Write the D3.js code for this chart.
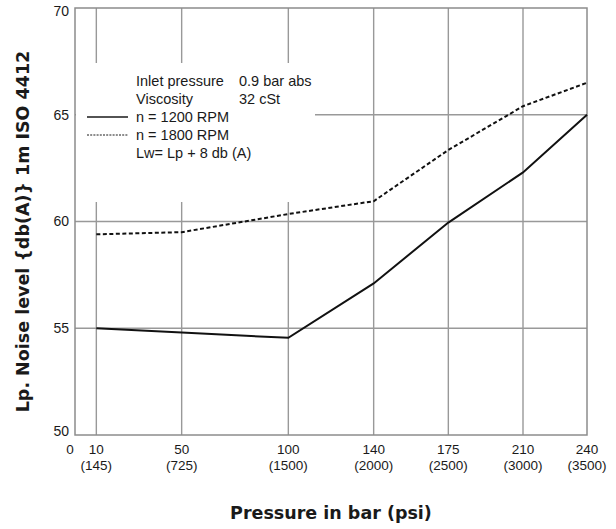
<!DOCTYPE html>
<html>
<head>
<meta charset="utf-8">
<script src="https://d3js.org/d3.v7.min.js"></script>
<style>
  body { margin: 0; background: #fff; }
  text { font-family: "Liberation Sans", Arial, sans-serif; fill: #1a1a1a; }
</style>
</head>
<body>
<svg width="616" height="529"></svg>
<script>
// pressure in bar, with psi in brackets under it
var pressureBar = [10, 50, 100, 140, 175, 210, 240];
var psiLabels = ["(145)", "(725)", "(1500)", "(2000)", "(2500)", "(3000)", "(3500)"];
var yTicks = [50, 55, 60, 65, 70];

// Lp noise level db(A)
var rpm1200 = [55.0, 54.8, 54.55, 57.1, 59.95, 62.3, 65.0];
var rpm1800 = [59.4, 59.5, 60.35, 60.95, 63.35, 65.4, 66.5];

var legendText = [
  ["Inlet pressure", "0.9 bar abs"],
  ["Viscosity", "32 cSt"],
  ["n = 1200 RPM", ""],
  ["n = 1800 RPM", ""],
  [" Lw= Lp + 8 db (A)", ""]
];

var svg = d3.select("svg"),
    margin = {top: 8, right: 29, bottom: 94, left: 75},
    width = +svg.attr("width") - margin.left - margin.right,
    height = +svg.attr("height") - margin.top - margin.bottom;

var x = d3.scaleLinear().domain([0, 240]).range([0, width]);
var y = d3.scaleLinear().domain([50, 70]).range([height, 0]);

var g = svg.append("g")
    .attr("transform", "translate(" + margin.left + "," + margin.top + ")");

var gridColor = "#999";

// horizontal grid
g.selectAll(".hgrid")
  .data(yTicks.filter(function(d) { return d > 50 && d < 70; }))
  .enter().append("line")
    .attr("x1", 0).attr("x2", width)
    .attr("y1", function(d) { return y(d); })
    .attr("y2", function(d) { return y(d); })
    .attr("stroke", gridColor)
    .attr("stroke-width", 1.4);

// vertical grid
g.selectAll(".vgrid")
  .data(pressureBar.slice(0, -1))
  .enter().append("line")
    .attr("x1", function(d) { return x(d); })
    .attr("x2", function(d) { return x(d); })
    .attr("y1", 0).attr("y2", height)
    .attr("stroke", gridColor)
    .attr("stroke-width", 1.4);

// frame
g.append("rect")
  .attr("width", width)
  .attr("height", height)
  .attr("fill", "none")
  .attr("stroke", "#8c8c8c")
  .attr("stroke-width", 1.5);

// y tick labels
g.selectAll(".ylab")
  .data(yTicks)
  .enter().append("text")
    .attr("x", -6)
    .attr("y", function(d) { return y(d); })
    .attr("dy", function(d) { return d == 70 ? "0.6em" : (d == 50 ? "0.1em" : "0.35em"); })
    .attr("text-anchor", "end")
    .style("font-size", "14px")
    .text(function(d) { return d; });

// x tick labels, bar then psi
g.append("text")
  .attr("x", x(0) - 5)
  .attr("y", height + 19)
  .attr("text-anchor", "middle")
  .style("font-size", "13.5px")
  .text("0");

g.selectAll(".xlab")
  .data(pressureBar)
  .enter().append("text")
    .attr("x", function(d) { return x(d); })
    .attr("y", height + 19)
    .attr("text-anchor", "middle")
    .style("font-size", "13.5px")
    .text(function(d) { return d; });

g.selectAll(".psilab")
  .data(pressureBar)
  .enter().append("text")
    .attr("x", function(d) { return x(d); })
    .attr("y", height + 35)
    .attr("text-anchor", "middle")
    .style("font-size", "13.5px")
    .text(function(d, i) { return psiLabels[i]; });

//Create X axis label
svg.append("text")
  .attr("x", margin.left + width / 2)
  .attr("y", 519)
  .attr("text-anchor", "middle")
  .style("font-family", "DejaVu Sans")
  .style("font-size", "17.5px")
  .style("font-weight", "bold")
  .text("Pressure in bar (psi)");

//Create y axis label
svg.append("text")
  .attr("transform", "translate(29," + (margin.top + y(60) + 10) + ") rotate(-90)")
  .attr("text-anchor", "middle")
  .style("font-family", "DejaVu Sans")
  .style("font-size", "17.5px")
  .style("font-weight", "bold")
  .text("Lp. Noise level {db(A)} 1m ISO 4412");

// legend box hides the grid behind it
g.append("rect")
  .attr("x", 1)
  .attr("y", 55)
  .attr("width", 239)
  .attr("height", 139)
  .attr("fill", "#fff");

var lg = g.append("g").attr("transform", "translate(61,78)");
lg.selectAll(".lt1")
  .data(legendText)
  .enter().append("text")
    .attr("x", 0)
    .attr("y", function(d, i) { return i * 18; })
    .style("font-size", "14.5px")
    .text(function(d) { return d[0]; });
lg.selectAll(".lt2")
  .data(legendText)
  .enter().append("text")
    .attr("x", 103)
    .attr("y", function(d, i) { return i * 18; })
    .style("font-size", "14.5px")
    .text(function(d) { return d[1]; });

lg.append("line")
  .attr("x1", -49).attr("x2", -8)
  .attr("y1", 31).attr("y2", 31)
  .attr("stroke", "#1a1a1a")
  .attr("stroke-width", 1.3);
lg.append("line")
  .attr("x1", -49).attr("x2", -8)
  .attr("y1", 49).attr("y2", 49)
  .attr("stroke", "#1a1a1a")
  .attr("stroke-width", 1)
  .attr("stroke-dasharray", "2,1.2");

// the curves
var line = d3.line()
  .x(function(d, i) { return x(pressureBar[i]); })
  .y(function(d) { return y(d); });

g.append("path")
  .datum(rpm1200)
  .attr("fill", "none")
  .attr("stroke", "#111")
  .attr("stroke-width", 2)
  .attr("d", line);

g.append("path")
  .datum(rpm1800)
  .attr("fill", "none")
  .attr("stroke", "#111")
  .attr("stroke-width", 2)
  .attr("stroke-dasharray", "4,2.5")
  .attr("d", line);
</script>
</body>
</html>
